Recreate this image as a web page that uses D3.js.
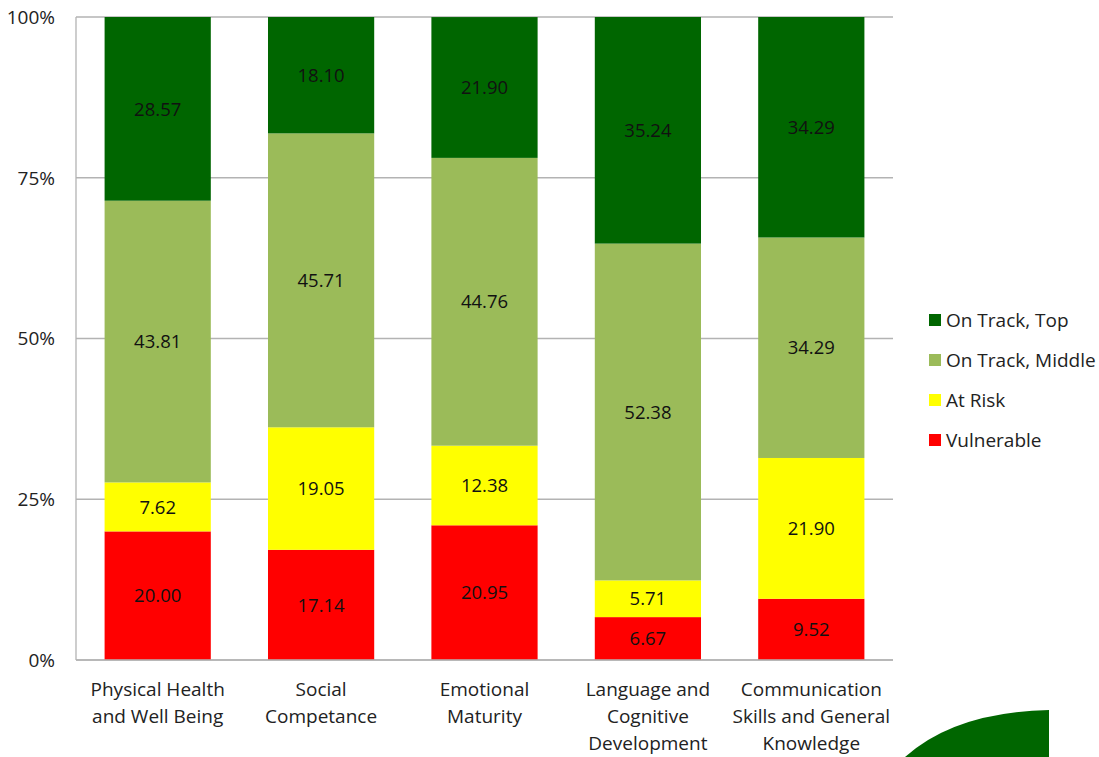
<!DOCTYPE html>
<html><head><meta charset="utf-8">
<script src="https://cdn.jsdelivr.net/npm/d3@7"></script>
<style>body{margin:0;background:#fff}svg{display:block}text{font-family:"Open Sans","Noto Sans",sans-serif;fill:#222}</style>
</head><body>
<svg id="c" width="1099" height="757"></svg>
<script>
const categories = [["Physical Health","and Well Being"],["Social","Competance"],["Emotional","Maturity"],["Language and","Cognitive","Development"],["Communication","Skills and General","Knowledge"]];
const vulnerable = [20.00, 17.14, 20.95, 6.67, 9.52];
const atRisk = [7.62, 19.05, 12.38, 5.71, 21.90];
const onTrackMiddle = [43.81, 45.71, 44.76, 52.38, 34.29];
const onTrackTop = [28.57, 18.10, 21.90, 35.24, 34.29];
const seriesNames = ["Vulnerable","At Risk","On Track, Middle","On Track, Top"];
const seriesColors = ["#ff0000","#ffff00","#9bbb59","#006600"];
const yTicks = [0, 25, 50, 75, 100];

const svg = d3.select("#c");
const L = 76, R = 893, T = 17, B = 660;
const idx = d3.range(categories.length);
const x = d3.scaleBand().domain(idx).range([L, R]).paddingInner(0.35).paddingOuter(0.175);
const y = d3.scaleLinear().domain([0, 100]).range([B, T]);

// gridlines
svg.append("g").selectAll("line").data(yTicks).join("line")
  .attr("x1", L).attr("x2", R).attr("y1", d => y(d)).attr("y2", d => y(d))
  .attr("stroke", "#b3b3b3").attr("stroke-width", 1.3);

const rows = idx.map(i => ({i, v: [vulnerable[i], atRisk[i], onTrackMiddle[i], onTrackTop[i]]}));
const stack = d3.stack().keys([0,1,2,3]).value((d, k) => d.v[k]);
const series = stack(rows);

const g = svg.append("g");
series.forEach((s, k) => {
  const sg = g.append("g");
  sg.selectAll("rect").data(s).join("rect")
    .attr("x", d => x(d.data.i)).attr("width", x.bandwidth())
    .attr("y", d => y(Math.min(100, d[1]))).attr("height", d => y(d[0]) - y(Math.min(100, d[1])))
    .attr("fill", seriesColors[k]);
  sg.selectAll("text").data(s).join("text")
    .attr("x", d => x(d.data.i) + x.bandwidth()/2)
    .attr("y", d => (y(d[0]) + y(Math.min(100, d[1])))/2)
    .attr("dy", "0.36em").attr("text-anchor", "middle")
    .attr("font-size", 18.5).style("fill", "#111")
    .text(d => d.data.v[k].toFixed(2));
});

// axes lines
svg.append("line").attr("x1", L).attr("x2", L).attr("y1", T).attr("y2", B).attr("stroke", "#b3b3b3").attr("stroke-width", 1.3);
svg.append("line").attr("x1", L).attr("x2", R).attr("y1", B).attr("y2", B).attr("stroke", "#b3b3b3").attr("stroke-width", 1.3);

// y tick labels
svg.append("g").selectAll("text").data(yTicks).join("text")
  .attr("x", 55).attr("y", d => y(d)).attr("dy", "0.36em")
  .attr("text-anchor", "end").attr("font-size", 19).text(d => d + "%");

// category labels
const cg = svg.append("g");
idx.forEach(i => {
  const t = cg.append("text").attr("text-anchor", "middle").attr("font-size", 19)
    .attr("x", x(i) + x.bandwidth()/2).attr("y", 696);
  categories[i].forEach((line, j) => {
    t.append("tspan").attr("x", x(i) + x.bandwidth()/2).attr("y", 696 + j*27).text(line);
  });
});

// legend
const legendOrder = [3,2,1,0];
const lg = svg.append("g");
legendOrder.forEach((k, j) => {
  const cy = 320 + j*40;
  lg.append("rect").attr("x", 929).attr("y", cy - 6).attr("width", 12).attr("height", 12).attr("fill", seriesColors[k]);
  lg.append("text").attr("x", 946).attr("y", cy).attr("dy", "0.36em").attr("font-size", 19).text(seriesNames[k]);
});

// decorative green shape bottom-right
svg.append("path").attr("d", "M905,757 Q955,712 1049,710 L1049,757 Z").attr("fill", "#006600");
</script>
</body></html>
